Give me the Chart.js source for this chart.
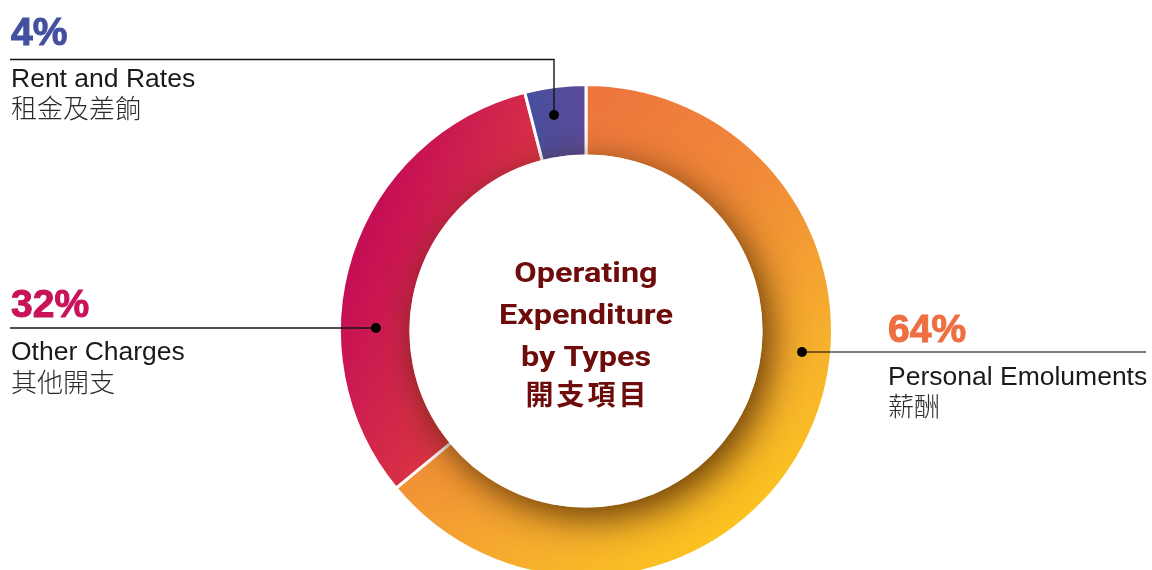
<!DOCTYPE html>
<html>
<head>
<meta charset="utf-8">
<script src="https://cdn.jsdelivr.net/npm/chart.js@4"></script>
<style>
html,body{margin:0;padding:0;background:#fff;overflow:hidden;}
#wrap{position:relative;width:1152px;height:570px;}
</style>
</head>
<body>
<div id="wrap"><canvas id="c"></canvas></div>
<script>
// ---- data ----
const categories = ['Personal Emoluments', 'Other Charges', 'Rent and Rates'];
const categoriesZh = ['薪酬', '其他開支', '租金及差餉'];
const shares = [64, 32, 4];
const percentLabels = ['64%', '32%', '4%'];
const centerTitle = ['Operating', 'Expenditure', 'by Types', '開支項目'];

// ---- styles / layout ----
const percentColors = ['#ee6f42', '#c8125a', '#4350a0'];
const labelLayout = [
  {x: 888, pctY: 342, enY: 385, zhY: 416, dot: [802, 352], line: [[802,352],[1146,352]], lineColor: 'rgba(0,0,0,0.5)', lineW: 2},
  {x: 11, pctY: 317, enY: 360, zhY: 392, dot: [376, 328], line: [[10,328],[376,328]], lineColor: '#151515', lineW: 1.4},
  {x: 11, pctY: 45, enY: 87, zhY: 118, dot: [554, 115], line: [[10,59.5],[554,59.5],[554,115]], lineColor: '#151515', lineW: 1.4}
];

function ringGeom(chart) {
  const meta = chart.getDatasetMeta(0);
  const a = meta.data[0];
  return {cx: a.x, cy: a.y, R: a.outerRadius, r: a.innerRadius};
}

function segGradient(ctx) {
  const chart = ctx.chart;
  const ca = chart.chartArea;
  if (!ca) return '#f08a38';
  const c = chart.ctx;
  const cx = (ca.left + ca.right) / 2, cy = (ca.top + ca.bottom) / 2, R = 246;
  const i = ctx.dataIndex;
  let g;
  if (i === 0) {
    g = c.createLinearGradient(cx - 0.5 * R, cy - R, cx + 0.85 * R, cy + 0.8 * R);
    g.addColorStop(0, '#ec6a40');
    g.addColorStop(0.45, '#f08a38');
    g.addColorStop(0.78, '#f7b22c');
    g.addColorStop(1, '#fcc91a');
  } else if (i === 1) {
    g = c.createLinearGradient(cx - R, cy - 0.1 * R, cx - 0.2 * R, cy + 0.22 * R);
    g.addColorStop(0, '#c50f55');
    g.addColorStop(0.5, '#d62c48');
    g.addColorStop(1, '#e4433c');
  } else {
    g = c.createLinearGradient(cx - 0.26 * R, cy, cx, cy);
    g.addColorStop(0, '#45509f');
    g.addColorStop(1, '#5b4a98');
  }
  return g;
}

const shadowPlugin = {
  id: 'innerShadow',
  afterDatasetsDraw(chart) {
    const {cx, cy, R} = ringGeom(chart);
    const r = ringGeom(chart).r + 1.6;
    const c = chart.ctx;
    c.save();
    c.beginPath();
    c.arc(cx, cy, R + 2, 0, Math.PI * 2);
    c.arc(cx, cy, r, 0, Math.PI * 2, true);
    c.clip();
    c.beginPath();
    c.arc(cx, cy, r, 0, Math.PI * 2);
    c.shadowColor = 'rgba(75,38,0,0.85)';
    c.shadowBlur = 36;
    c.shadowOffsetX = 8;
    c.shadowOffsetY = 10;
    c.fillStyle = '#fff';
    c.fill();
    c.restore();
    // clean hole edge
    c.save();
    c.beginPath();
    c.arc(cx, cy, r - 0.3, 0, Math.PI * 2);
    c.fillStyle = '#fff';
    c.fill();
    c.restore();
  }
};

const labelPlugin = {
  id: 'labels',
  afterDraw(chart) {
    const c = chart.ctx;
    const {cx} = ringGeom(chart);
    c.save();
    // center title
    c.fillStyle = '#6e0b0b';
    c.textAlign = 'center';
    c.textBaseline = 'alphabetic';
    const baseY = [282, 324, 366, 405];
    centerTitle.forEach((t, k) => {
      if (k === 3) {
        c.font = 'bold 28px "Noto Sans CJK TC"';
        c.letterSpacing = '3px';
        c.fillText(t, cx + 1.5, baseY[k]);
        c.letterSpacing = '0px';
      } else {
        c.font = 'bold 28px Roboto';
        c.save();
        c.translate(cx, baseY[k]);
        c.scale(1.16, 1);
        c.fillText(t, 0, 0);
        c.restore();
      }
    });
    // callouts
    c.textAlign = 'left';
    labelLayout.forEach((L, i) => {
      c.strokeStyle = L.lineColor;
      c.lineWidth = L.lineW;
      c.beginPath();
      L.line.forEach((p, k) => k ? c.lineTo(p[0], p[1]) : c.moveTo(p[0], p[1]));
      c.stroke();
      c.fillStyle = '#000';
      c.beginPath();
      c.arc(L.dot[0], L.dot[1], 5, 0, Math.PI * 2);
      c.fill();
      c.fillStyle = percentColors[i];
      c.strokeStyle = percentColors[i];
      c.lineWidth = 1;
      c.font = 'bold 39px "Liberation Sans"';
      c.fillText(percentLabels[i], L.x, L.pctY);
      c.strokeText(percentLabels[i], L.x, L.pctY);
      c.fillStyle = '#1a1a1a';
      c.font = '26.5px "Liberation Sans"';
      c.fillText(categories[i], L.x, L.enY);
      c.fillStyle = '#2a2a2a';
      c.font = '300 26px "Noto Sans CJK TC"';
      c.fillText(categoriesZh[i], L.x, L.zhY);
    });
    c.restore();
  }
};

new Chart(document.getElementById('c'), {
  type: 'doughnut',
  data: {
    labels: categories,
    datasets: [{
      data: shares,
      backgroundColor: segGradient,
      borderColor: '#ffffff',
      borderWidth: 3,
      hoverOffset: 0
    }]
  },
  options: {
    responsive: true,
    maintainAspectRatio: false,
    animation: false,
    radius: 246.5,
    cutout: '71%',
    rotation: 0,
    layout: {padding: {left: 20, right: 0, top: 92, bottom: 0}},
    plugins: {legend: {display: false}, tooltip: {enabled: false}}
  },
  plugins: [shadowPlugin, labelPlugin]
});
</script>
</body>
</html>
